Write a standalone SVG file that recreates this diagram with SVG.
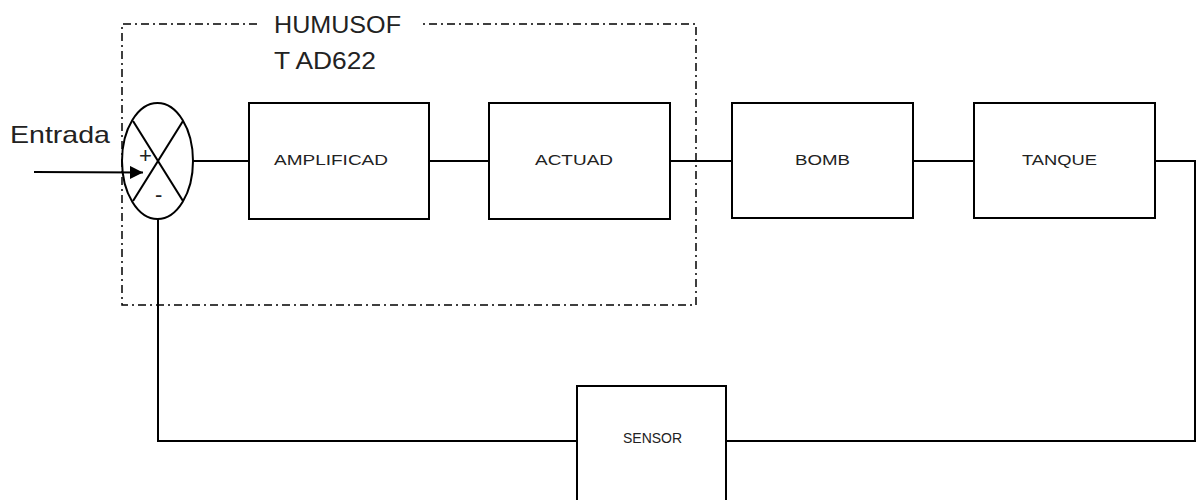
<svg xmlns="http://www.w3.org/2000/svg" width="1196" height="500" viewBox="0 0 1196 500">
<style>
.blk{fill:#fff;stroke:#000;stroke-width:2}
.ln{fill:none;stroke:#000;stroke-width:2}
.grp{fill:none;stroke:#000;stroke-width:1.5;stroke-dasharray:8,4,2,4}
.lbl{font-family:"Liberation Sans",Arial,sans-serif;font-size:15px;fill:#222}
.big{font-family:"Liberation Sans",Arial,sans-serif;font-size:24px;fill:#222}
</style>
<defs>
<marker id="ah" viewBox="0 0 10 10" refX="10" refY="5" markerWidth="13" markerHeight="13" markerUnits="userSpaceOnUse" orient="auto">
<path d="M0,0 L10,5 L0,10 z" fill="#000"/>
</marker>
</defs>
<g id="group-box">
<path class="grp" d="M257,24 H122 V305 H696 V24 H422"/>
<text class="big" x="274" y="33" textLength="127" lengthAdjust="spacingAndGlyphs">HUMUSOF</text>
<text class="big" x="274" y="69" textLength="102" lengthAdjust="spacingAndGlyphs">T AD622</text>
</g>
<g id="entrada">
<text class="big" x="10" y="143" textLength="100" lengthAdjust="spacingAndGlyphs">Entrada</text>
</g>
<g id="sum">
<ellipse class="blk" cx="157.5" cy="161" rx="35.5" ry="58"/>
<line class="ln" x1="133" y1="121" x2="183" y2="201"/>
<line class="ln" x1="183" y1="121" x2="133" y2="201"/>
<text class="big" x="139" y="163" style="font-size:22px">+</text>
<text class="big" x="155" y="202" style="font-size:22px">-</text>
</g>
<g id="amplificad">
<rect class="blk" x="249" y="103" width="180" height="116"/>
<text class="lbl" x="274" y="165" textLength="114" lengthAdjust="spacingAndGlyphs">AMPLIFICAD</text>
</g>
<g id="actuad">
<rect class="blk" x="489" y="103" width="181" height="116"/>
<text class="lbl" x="535" y="165" textLength="78" lengthAdjust="spacingAndGlyphs">ACTUAD</text>
</g>
<g id="bomb">
<rect class="blk" x="732" y="103" width="181" height="115"/>
<text class="lbl" x="795" y="165" textLength="55" lengthAdjust="spacingAndGlyphs">BOMB</text>
</g>
<g id="tanque">
<rect class="blk" x="974" y="103" width="181" height="115"/>
<text class="lbl" x="1022" y="165" textLength="75" lengthAdjust="spacingAndGlyphs">TANQUE</text>
</g>
<g id="sensor">
<rect class="blk" x="577" y="386" width="149" height="130"/>
<text class="lbl" x="623" y="443" textLength="59" lengthAdjust="spacingAndGlyphs">SENSOR</text>
</g>
<g id="connectors">
<line class="ln" x1="193" y1="161" x2="249" y2="161"/>
<line class="ln" x1="429" y1="161" x2="489" y2="161"/>
<line class="ln" x1="670" y1="161" x2="732" y2="161"/>
<line class="ln" x1="913" y1="161" x2="974" y2="161"/>
<polyline class="ln" points="1155,161 1195,161 1195,441 726,441"/>
<polyline class="ln" points="577,441 158,441 158,219"/>
<line class="ln" x1="34" y1="172" x2="143" y2="172.5" marker-end="url(#ah)"/>
</g>
</svg>
